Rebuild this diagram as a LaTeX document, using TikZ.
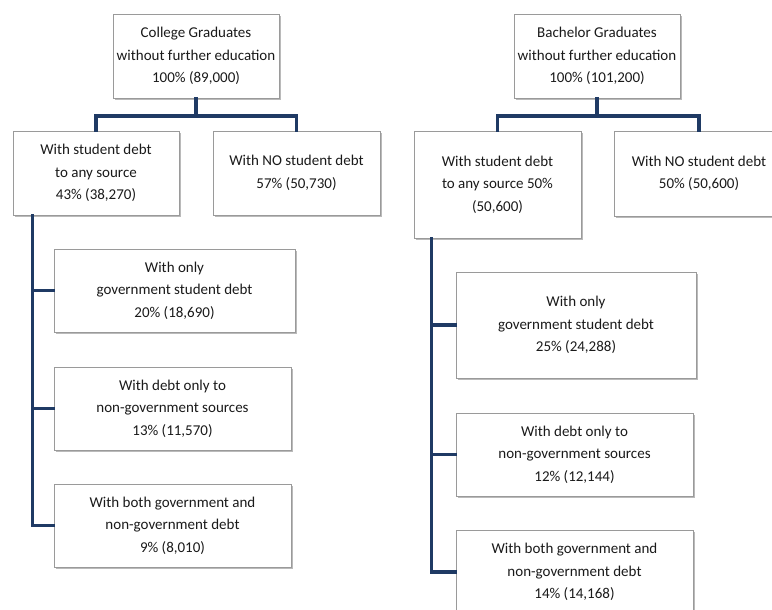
\documentclass[tikz,border=0pt]{standalone}
\usepackage{fontspec}
\setmainfont{Carlito}
\usetikzlibrary{shadows}
\definecolor{navy}{HTML}{1F3A64}
\definecolor{boxline}{HTML}{9A9A9A}
\definecolor{txt}{HTML}{1A1A1A}
\tikzset{
  box/.style={draw=boxline, line width=0.9pt, fill=white, inner sep=0pt,
    align=center, text=txt,
    font=\fontsize{15}{22.5}\selectfont,
    drop shadow={shadow xshift=1.8pt, shadow yshift=-2pt, fill=black!45, opacity=0.6}},
  conn/.style={draw=navy, line width=3.4pt, line cap=rect, line join=miter}
}
\begin{document}
\begin{tikzpicture}[x=1pt,y=-1pt]
\useasboundingbox (0,0) rectangle (772,610);
\clip (0,0) rectangle (772,610);
% left tree
\node[box, minimum width=166pt, minimum height=84pt] (t1) at (196,56)
  {College Graduates\\without further education\\100\% (89,000)};
\node[box, minimum width=166pt, minimum height=84pt] (c1) at (96,173)
  {With student debt\\to any source\\43\% (38,270)};
\node[box, minimum width=167pt, minimum height=84pt] (c2) at (296.5,173)
  {With NO student debt\\57\% (50,730)};
\node[box, minimum width=241pt, minimum height=83pt] (s1) at (174.5,290.5)
  {With only\\government student debt\\20\% (18,690)};
\node[box, minimum width=237pt, minimum height=83pt] (s2) at (172.5,408.5)
  {With debt only to\\non-government sources\\13\% (11,570)};
\node[box, minimum width=237pt, minimum height=83pt] (s3) at (172.5,525.5)
  {With both government and\\non-government debt\\9\% (8,010)};
\coordinate (j1) at (196,116);
\draw[conn] (t1.south) -- (j1) -| (c1.north);
\draw[conn] (j1) -| (c2.north);
\coordinate (v1) at ([xshift=20pt]c1.south west);
\draw[conn] (v1) |- (s3.west);
\draw[conn] (v1 |- s1.west) -- (s1.west);
\draw[conn] (v1 |- s2.west) -- (s2.west);
% right tree
\node[box, minimum width=166pt, minimum height=84pt] (t2) at (597,56)
  {Bachelor Graduates\\without further education\\100\% (101,200)};
\node[box, minimum width=167pt, minimum height=107pt] (c3) at (497.5,184.5)
  {With student debt\\to any source 50\%\\(50,600)};
\node[box, minimum width=170pt, minimum height=85pt] (c4) at (699,173.5)
  {With NO student debt\\50\% (50,600)};
\node[box, minimum width=240pt, minimum height=106pt] (r1) at (576,325)
  {With only\\government student debt\\25\% (24,288)};
\node[box, minimum width=237pt, minimum height=83pt] (r2) at (574.5,454.5)
  {With debt only to\\non-government sources\\12\% (12,144)};
\node[box, minimum width=237pt, minimum height=84pt] (r3) at (574.5,572)
  {With both government and\\non-government debt\\14\% (14,168)};
\coordinate (j2) at (597,116);
\draw[conn] (t2.south) -- (j2) -| (c3.north);
\draw[conn] (j2) -| (c4.north);
\coordinate (v2) at ([xshift=18pt]c3.south west);
\draw[conn] (v2) |- (r3.west);
\draw[conn] (v2 |- r1.west) -- (r1.west);
\draw[conn] (v2 |- r2.west) -- (r2.west);
\end{tikzpicture}
\end{document}
